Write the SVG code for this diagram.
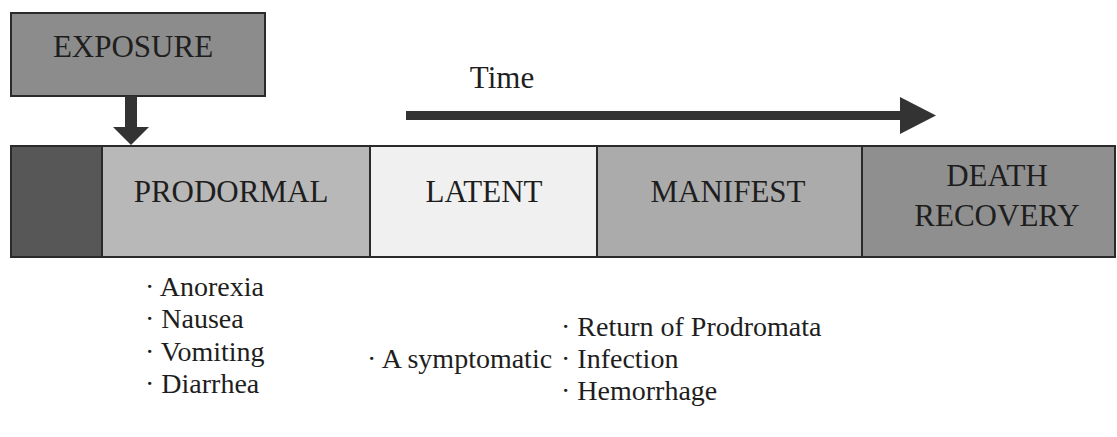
<svg xmlns="http://www.w3.org/2000/svg" width="1117" height="437" viewBox="0 0 1117 437">
<style>
.box{stroke:#2a2a2a;stroke-width:2}
.lbl{font-family:"Liberation Serif","Times New Roman",serif;font-size:31px;fill:#1e1e1e;text-anchor:middle}
.lst{font-family:"Liberation Serif","Times New Roman",serif;font-size:28px;fill:#1e1e1e}
.arr{fill:#333333}
</style>
<rect width="1117" height="437" fill="#ffffff"/>
<g id="exposure">
<rect class="box" x="11" y="13" width="254" height="83" fill="#8c8c8c"/>
<text class="lbl" x="133" y="57">EXPOSURE</text>
</g>
<g id="pre">
<rect class="box" x="11" y="146" width="91" height="111" fill="#575757"/>
</g>
<g id="prodormal">
<rect class="box" x="102" y="146" width="268" height="111" fill="#b8b8b8"/>
<text class="lbl" x="231" y="202">PRODORMAL</text>
</g>
<g id="latent">
<rect class="box" x="370" y="146" width="227" height="111" fill="#f0f0f0"/>
<text class="lbl" x="484" y="202">LATENT</text>
</g>
<g id="manifest">
<rect class="box" x="597" y="146" width="265" height="111" fill="#ababab"/>
<text class="lbl" x="728" y="202">MANIFEST</text>
</g>
<g id="death">
<rect class="box" x="862" y="146" width="253" height="111" fill="#8f8f8f"/>
<text class="lbl" x="997" y="186">DEATH</text>
<text class="lbl" x="997" y="226">RECOVERY</text>
</g>
<g id="time">
<text class="lbl" x="502" y="88">Time</text>
</g>
<g id="connectors">
<path class="arr" d="M125,96 H137 V127 H149 L131,145 L113,127 H125 Z"/>
<path class="arr" d="M406,111 H900 V97 L936,115.5 L900,134 V120 H406 Z"/>
</g>
<g id="prodormal-symptoms">
<text class="lst" x="145" y="296">· Anorexia</text>
<text class="lst" x="145" y="328">· Nausea</text>
<text class="lst" x="145" y="361">· Vomiting</text>
<text class="lst" x="145" y="393">· Diarrhea</text>
</g>
<g id="latent-symptoms">
<text class="lst" x="367" y="368">· A symptomatic</text>
</g>
<g id="manifest-symptoms">
<text class="lst" x="561" y="336">· Return of Prodromata</text>
<text class="lst" x="561" y="368">· Infection</text>
<text class="lst" x="561" y="400">· Hemorrhage</text>
</g>
</svg>
